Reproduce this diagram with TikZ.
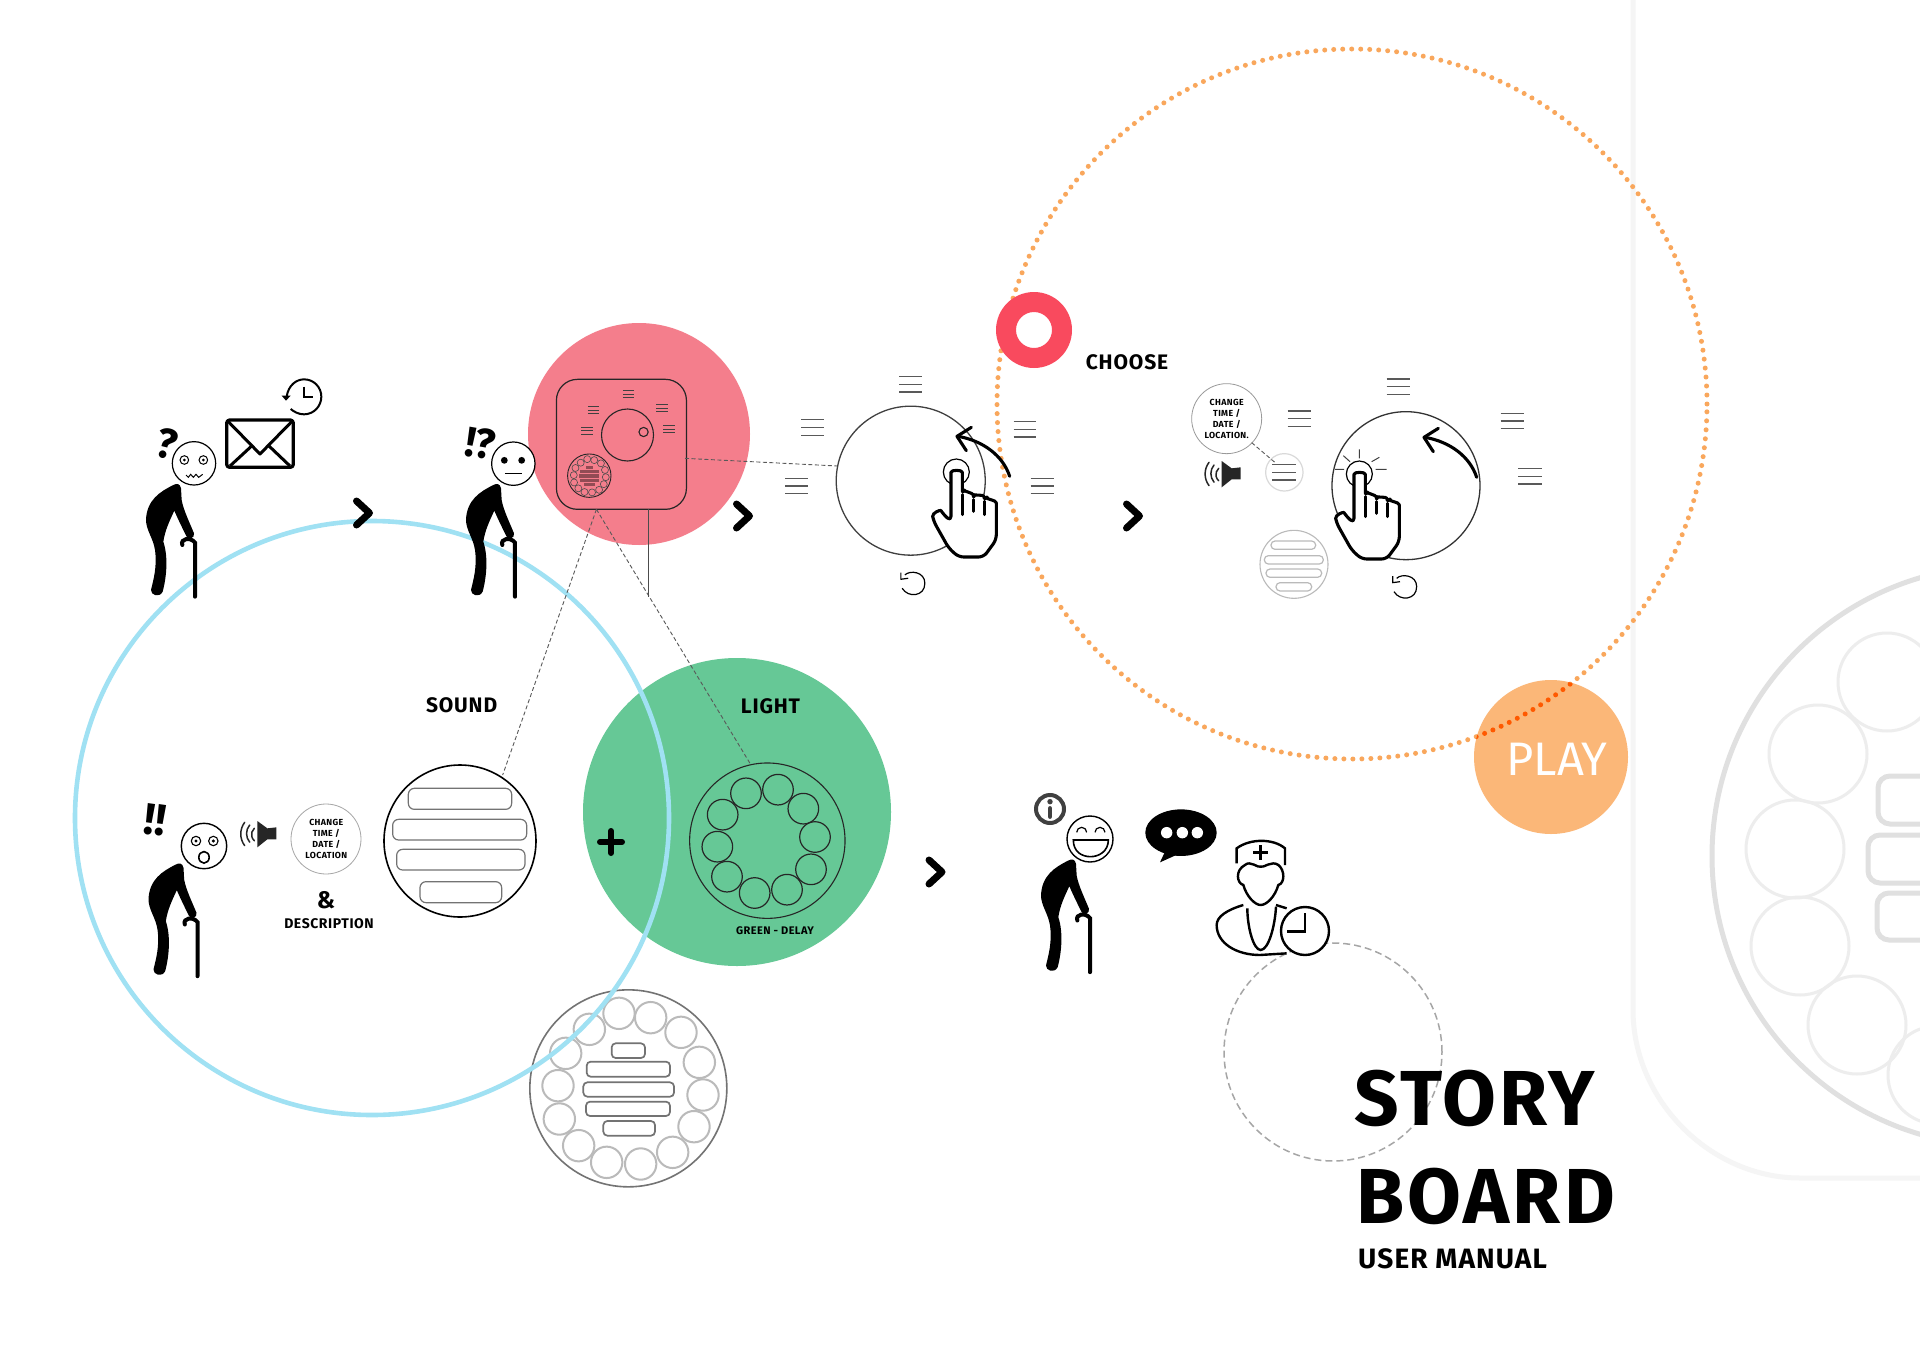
\documentclass[tikz,border=0pt]{standalone}
\usepackage{fontspec}
\setmainfont{Fira Sans}
\definecolor{skyb}{HTML}{A0E1F3}
\definecolor{orgd}{HTML}{F9A75C}
\definecolor{orgf}{HTML}{FBB778}
\definecolor{pinkf}{HTML}{F47E8C}
\definecolor{redr}{HTML}{F94A5E}
\definecolor{greenf}{HTML}{66C896}
\newcommand\lbf[2]{\bfseries\fontsize{#1}{#2}\selectfont\addfontfeature{LetterSpace=4}}
\tikzset{
 z1/.style={shift={(120pt,-360pt)},x=.33333pt,y=-.33333pt},
 z2/.style={shift={(500pt,-310pt)},x=.35714pt,y=-.33333pt},
 z3/.style={shift={(1170pt,-360pt)},x=.33333pt,y=-.33333pt},
 z4/.style={shift={(130pt,-760pt)},x=.33333pt,y=-.33333pt},
 z5/.style={shift={(520pt,-970pt)},x=.33333pt,y=-.33333pt},
 z6/.style={shift={(1010pt,-770pt)},x=.33333pt,y=-.33333pt},
 z8/.style={shift={(670pt,-750pt)},x=.33333pt,y=-.33333pt},
 tline/.style={draw=black!65,line width=1.2pt},
 tdev/.style={draw=black!75,line width=.9pt},
 dashc/.style={draw=black!65,line width=.9pt,dash pattern=on 4pt off 2.5pt},
 head/.style={draw=black,fill=white,line width=1.2pt},
 handl/.style={draw=black,line width=3.1pt,line cap=round,line join=round},
 label/.style={text=black,inner sep=0pt,align=center},
 chev/.style={draw=black,line width=7pt,line cap=round,line join=round},
}
\newcommand\tl[5][tline]{\draw[#1] ({#2-#4},{#3-#5})--({#2+#4},{#3-#5}) ({#2-#4},{#3})--({#2+#4},{#3}) ({#2-#4},{#3+#5})--({#2+#4},{#3+#5});}
\newcommand\rb[6][draw=black!55,line width=1.2pt]{\draw[#1,rounded corners=#6pt] (#2,#3) rectangle (#4,#5);}
\newcommand\man{%
 \fill[black] (160,375) .. controls (120,395) and (80,420) .. (78,480) .. controls (78,510) and (100,535) .. (105,570) .. controls (112,620) and (100,660) .. (93,690) .. controls (92,705) and (118,715) .. (128,695) .. controls (140,650) and (145,590) .. (130,545) .. controls (135,510) and (150,480) .. (163,452) .. controls (175,480) and (190,510) .. (200,530) .. controls (205,540) and (225,535) .. (222,520) .. controls (210,490) and (190,450) .. (185,420) -- (183,385) .. controls (180,370) and (170,370) .. (160,375) -- cycle;
 \draw[black,line width=4pt,line cap=round] (187,555) .. controls (180,535) and (212,530) .. (225,548) -- (225,710);}
\newcommand\chv[2]{\draw[chev] ({#1-6.5},{#2-12})--({#1+6.5},{#2})--({#1-6.5},{#2+12});}
\newcommand\hand{%
 \draw[handl,fill=white,rounded corners=5pt] (552,490) -- (552,358) .. controls (552,335) and (586,335) .. (586,358) -- (586,410) .. controls (590,400) and (618,405) .. (620,425) .. controls (622,412) and (650,410) .. (652,430) .. controls (655,425) and (688,425) .. (688,450) -- (688,545) -- (650,597) -- (575,597) -- (545,570) -- (500,490) .. controls (495,465) and (520,455) .. (530,470) -- cycle;
 \draw[handl] (586,410)--(586,470) (620,425)--(620,460) (652,430)--(652,470);}
\newcommand\curvearrow{%
 \draw[handl] (920,352) .. controls (900,290) and (840,245) .. (765,232);
 \draw[handl] (805,205)--(762,232)--(790,275);}
\newcommand\speaker{%
 \fill[black!85] (155,303)--(185,325)--(212,322)--(212,358)--(185,358)--(155,382)--cycle;
 \draw[black!85,line width=1.5pt,line cap=round] (146,325) arc[start angle=132,end angle=228,radius=25pt/3] (132,315) arc[start angle=140,end angle=220,radius=40pt/3] (117,307) arc[start angle=143,end angle=217,radius=58pt/3];}
\newcommand\refresh{%
 \draw[black,line width=1.2pt,line join=round] (680,655) .. controls (695,640) and (740,645) .. (740,680) .. controls (740,720) and (690,725) .. (672,695);
 \draw[black,line width=1.2pt,line join=round] (668,648)--(668,668)--(690,665);}
\begin{document}
\begin{tikzpicture}[x=1pt,y=-1pt]
\path[use as bounding box,fill=white] (0pt,0pt) rectangle (1920pt,-1357pt);
% background ornament
\begin{scope}
\clip (0pt,0pt) rectangle (1920pt,-1357pt);
\draw[black!4,line width=5pt] (1633,0) -- (1633,1010) .. controls (1633,1100) and (1710,1178) .. (1800,1178) -- (1925,1178);
\draw[black!12,line width=5pt] (2002,856) circle (290pt);
\foreach \a/\b in {1818/754,1795/849,1800/946,1857/1025,1887/682,1937/1075}
 \draw[black!7,line width=3pt] (\a,\b) circle (49pt);
\foreach \a/\b/\c in {1878/776/824,1868/835/883,1877/893/940}
 \draw[black!12,line width=5pt,rounded corners=12pt] (1960,\b) -- (\a,\b) -- (\a,\c) -- (1960,\c);
\end{scope}
% large colour discs
\fill[greenf] (737,812) circle (154pt);
\fill[pinkf] (639,434) circle (111pt);
% big button
\begin{scope}[z5]
\draw[black!55,line width=1.6pt] (325,355) circle (98.5pt);
\foreach \a/\b in {297/130,392/143,483/187,538/277,549/375,522/470,458/547,362/582,260/577,176/527,118/447,114/347,137/250,208/178}
 \draw[black!27,line width=2pt] (\a,\b) circle (15.7pt);
\rb[draw=black!55,line width=1.7pt]{275}{220}{375}{264}{4}
\rb[draw=black!55,line width=1.7pt]{200}{275}{450}{320}{4}
\rb[draw=black!55,line width=1.7pt]{190}{337}{462}{380}{4}
\rb[draw=black!55,line width=1.7pt]{198}{395}{450}{438}{4}
\rb[draw=black!55,line width=1.7pt]{250}{453}{405}{497}{4}
\end{scope}
% blue circle
\draw[skyb,line width=4.6pt] (372,818) circle (297pt);
% dotted circle
\draw[orgd,line width=5pt,line cap=round,dash pattern=on 0pt off 9pt] (1352,404) circle (355pt);
% play
\fill[orgf] (1551,757) circle (77pt);
\begin{scope}
\clip (1551,757) circle (77pt);
\draw[orange!70!red,line width=5pt,line cap=round,dash pattern=on 0pt off 9pt] (1352,404) circle (355pt);
\end{scope}
\node[font=\fontsize{47}{47}\selectfont,text=white,inner sep=0pt] (play) at (1557,759) {PLAY};
% red ring
\fill[redr,even odd rule] (1034,330) circle (38pt) (1034,330) circle (18pt);
% dashed circle
\draw[black!35,line width=1.5pt,dash pattern=on 7pt off 4pt] (1333,1052) circle (109pt);
% light ring
\begin{scope}[z8]
\draw[black!85,line width=1.1pt] (292,272) circle (77.7pt);
\foreach \a/\b in {228/130,324/119,400/176,435/261,423/358,351/419,254/429,171/380,142/290,158/194}
 \draw[black!85,line width=1.2pt] (\a,\b) circle (15.3pt);
\node[label,font=\lbf{11}{11}] (delay) at (315,541) {GREEN - DELAY};
\coordinate (lightc) at (240,40);
\end{scope}
% device
\begin{scope}[z2]
\draw[black!85,line width=1.2pt,rounded corners=21pt] (158,208) rectangle (522,598);
\coordinate (devr) at (518,445);
\coordinate (devb) at (270,598);
\coordinate (devc) at (416,598);
\coordinate (linee) at (416,860);
\coordinate (dial) at (945,468);
\draw[black!85,line width=1.1pt] (357,375) circle (26pt);
\draw[black!85,line width=1.1pt] (402,366) circle (4.6pt);
\tl[tdev]{360}{252}{16}{10}
\tl[tdev]{262}{300}{16}{10}
\tl[tdev]{453}{294}{16}{10}
\tl[tdev]{243}{362}{16}{10}
\tl[tdev]{473}{357}{16}{10}
\draw[black!85,line width=.9pt] (250,497) circle (21.7pt);
\end{scope}
\begin{scope}[shift={(589.3pt,-475.7pt)},x=.0736pt,y=-.0736pt]
\foreach \a/\b in {297/130,392/143,483/187,538/277,549/375,522/470,458/547,362/582,260/577,176/527,118/447,114/347,137/250,208/178}
 \draw[black!70,line width=.6pt] ({\a-325},{\b-355}) circle (3.5pt);
\foreach \a/\b/\c/\d in {275/220/375/264,200/275/450/320,190/337/462/380,198/395/450/438,250/453/405/497}
 \fill[pinkf!60!black] ({\a-325},{\b-355}) rectangle ({\c-325},{\d-355});
\end{scope}
\draw[dashc] (devr) -- (dial);
\draw[dashc] (devb) -- (lightc);
\draw[black!70,line width=1pt] (devc) -- (linee);
% men
\begin{scope}[z1]
\man
\draw[head] (222,310) circle (21.7pt);
\foreach \a in {193,250} {\draw[black,line width=1pt] (\a,300) circle (4.3pt); \fill[black] (\a,300) circle (1.5pt);}
\draw[black,line width=1pt] (198,345) -- (205,352) -- (212,343) -- (220,352) -- (228,343) -- (236,352) -- (248,343);
\node[label,font=\bfseries\fontsize{42}{42}\selectfont,rotate=-14] (q1) at (139,250) {?};
% envelope
\draw[black,line width=3.3pt,rounded corners=3pt,line join=round] (320,180) rectangle (520,322);
\draw[black,line width=3pt,line join=round] (325,185)--(420,282)--(515,185) (330,318)--(395,258) (510,318)--(447,258);
\draw[black,line width=2pt] (500,110) .. controls (505,75) and (530,58) .. (552,58) .. controls (582,58) and (604,82) .. (604,110) .. controls (604,138) and (582,163) .. (552,163) .. controls (535,163) and (522,155) .. (512,147);
\draw[black,line width=2pt] (552,80)--(552,112)--(580,112);
\fill[black] (485,107)--(512,107)--(498,122)--cycle;
\begin{scope}[shift={(960,0)}]
\man
\draw[head] (220,311) circle (21.7pt);
\fill[black] (193,301) circle (3.4pt) (245,301) circle (3.4pt);
\draw[black,line width=1pt] (195,340)--(245,340);
\node[label,font=\bfseries\fontsize{42}{42}\selectfont,rotate=-10] (q2) at (122,250) {!?};
\end{scope}
\end{scope}
\begin{scope}[shift={(122.5pt,-739.5pt)},x=.33333pt,y=-.33333pt]
\man
\end{scope}
\begin{scope}[shift={(1015pt,-735.5pt)},x=.33333pt,y=-.33333pt]
\man
\end{scope}
\chv{363}{513}
\chv{743}{516}
\chv{1133}{516}
\chv{935.5}{872}
\draw[black,line width=6pt,line cap=round] (600,842)--(622,842) (611,831)--(611,853);
% Man 3 scene
\begin{scope}[z4]
\draw[head,line width=1.4pt] (222,258) circle (22.7pt);
\foreach \a in {198,250} {\draw[black,line width=1.1pt] (\a,243) circle (4.7pt); \fill[black] (\a,243) circle (1.7pt);}
\draw[black,line width=1.6pt] (222,292) ellipse (5.2pt and 5.8pt);
\node[label,font=\bfseries\fontsize{44}{44}\selectfont,rotate=-8] (q3) at (76,180) {!!};
\begin{scope}[shift={(227,-120)}]
\speaker
\end{scope}
\draw[black!35,line width=.8pt] (588,237) circle (35pt);
\node[label,font=\lbf{8.8}{11}] (cta) at (589,238) {CHANGE\\TIME /\\DATE /\\LOCATION};
\node[label,font=\bfseries\fontsize{24}{24}\selectfont] (amp) at (588,420) {\&};
\node[label,font=\lbf{14}{14}] (desc) at (597,492) {DESCRIPTION};
\draw[black,line width=1.6pt] (990,243) circle (76pt);
\coordinate (soundc) at (1118,45);
\rb{835}{85}{1145}{148}{6}
\rb{788}{178}{1190}{240}{6}
\rb{800}{268}{1185}{330}{6}
\rb{870}{365}{1115}{428}{6}
\end{scope}
\draw[dashc] (devb) -- (soundc);
\node[label,font=\lbf{21}{21}] (snd) at (461.6,705.5) {SOUND};
\node[label,font=\lbf{21}{21}] (lgt) at (770.5,706.5) {LIGHT};
\node[label,font=\lbf{21}{21}] (chs) at (1127,362.5) {CHOOSE};
% Dial 1
\begin{scope}[z2]
\draw[black!75,line width=1.3pt] (1150,512) circle (74.5pt);
\tl{1150}{223}{32}{23}
\tl{875}{352}{32}{24}
\tl{830}{528}{32}{23}
\tl{1470}{358}{32}{23}
\tl{1518}{528}{32}{23}
\end{scope}
\begin{scope}[shift={(-491.8pt,3.4pt)}]
\begin{scope}[z3]
\refresh
\end{scope}
\end{scope}
\begin{scope}[shift={(-403pt,2pt)}]
\begin{scope}[z3]
\draw[black,line width=1.2pt,fill=white] (568,342) circle (13pt);
\hand
\end{scope}
\end{scope}
\begin{scope}[shift={(-467pt,1pt)}]
\begin{scope}[z3]
\curvearrow
\end{scope}
\end{scope}
% Dial 2
\begin{scope}[z3]
\draw[black!80,line width=1.3pt] (708,377) circle (74pt);
\tl{685}{80}{35}{23}
\tl{388}{176}{35}{23}
\tl{1027}{183}{35}{23}
\tl{1080}{349}{35}{23}
\draw[black!15,line width=1.2pt] (343,337) circle (18.7pt);
\tl{342}{337}{35}{23}
\draw[black!40,line width=.8pt] (170,176) circle (35pt);
\node[label,font=\lbf{8.8}{11}] (ctb) at (170,178) {CHANGE\\TIME /\\DATE /\\LOCATION.};
\coordinate (cte) at (245,248);
\coordinate (ctf) at (318,310);
\draw[dashc] (cte) -- (ctf);
\speaker
\draw[black!27,line width=1.1pt] (372,613) circle (34pt);
\rb[draw=black!27,line width=1.2pt]{303}{543}{437}{568}{4}
\rb[draw=black!27,line width=1.2pt]{283}{587}{460}{612}{4}
\rb[draw=black!27,line width=1.2pt]{288}{627}{455}{652}{4}
\rb[draw=black!27,line width=1.2pt]{318}{668}{425}{693}{4}
\refresh
\draw[black,line width=1.2pt,fill=white] (568,342) circle (13pt);
\draw[black!75,line width=1pt] (568,268)--(568,295) (495,328)--(522,328) (617,328)--(650,328) (520,287)--(540,305) (605,305)--(628,292);
\hand
\curvearrow
\end{scope}
% Man 4 scene
\begin{scope}[z6]
\draw[black!75,line width=4pt] (120,117) circle (14pt);
\fill[black!75] (120,95) circle (2.7pt);
\draw[black!75,line width=4.5pt,line cap=round] (120,115)--(120,140);
\draw[head,line width=1.4pt] (240,207) circle (23pt);
\draw[black,line width=1.2pt] (200,187) arc[start angle=180,end angle=0,radius=5pt] (255,187) arc[start angle=180,end angle=0,radius=5pt];
\draw[black,line width=1.6pt,fill=white] (190,210) -- (295,210) .. controls (295,245) and (265,260) .. (242,260) .. controls (215,260) and (190,245) .. (190,210) -- cycle;
\fill[black] (513,188) ellipse (35.7pt and 23.3pt);
\fill[black] (465,245) -- (450,277) -- (510,250) -- cycle;
\fill[white] (470,188) circle (5.7pt) (517,188) circle (5.7pt) (562,188) circle (5.7pt);
\begin{scope}[line width=2.4pt,black]
\draw (680,280) -- (680,235) .. controls (720,205) and (790,205) .. (825,235) -- (825,285);
\draw[line width=2.6pt] (752,225)--(752,270) (730,248)--(775,248);
\draw (705,285) .. controls (720,270) and (745,295) .. (752,290) .. controls (760,295) and (785,270) .. (805,285) .. controls (825,300) and (825,340) .. (805,345) .. controls (795,380) and (770,405) .. (752,405) .. controls (735,405) and (710,380) .. (700,345) .. controls (680,340) and (675,300) .. (705,285) -- cycle;
\draw (700,405) .. controls (650,420) and (620,440) .. (620,465) .. controls (620,520) and (680,555) .. (750,555) -- (830,550);
\draw (712,415) .. controls (712,470) and (730,540) .. (752,540) .. controls (775,540) and (795,470) .. (798,410);
\draw (798,405) -- (830,415);
\end{scope}
\draw[black,line width=2.4pt,fill=white] (885,483) circle (24pt);
\draw[black,line width=2.4pt] (885,430)--(885,485)--(830,485);
\end{scope}
% Title
\node[anchor=west,label,font=\lbf{78}{78}] (story) at (1354,1098) {STORY};
\node[anchor=west,label,font=\lbf{78}{78}] (board) at (1356,1196) {BOARD};
\node[anchor=west,label,font=\lbf{28}{28}] (manual) at (1358,1259) {USER MANUAL};
\end{tikzpicture}
\end{document}
